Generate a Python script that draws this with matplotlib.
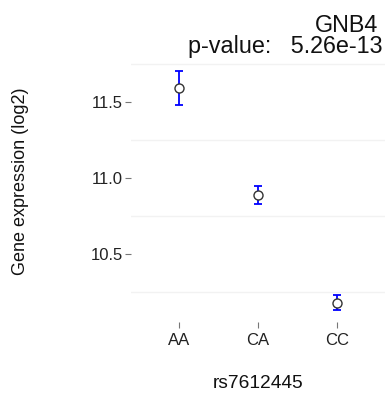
import matplotlib
matplotlib.use("Agg")
import matplotlib.pyplot as plt
import numpy as np

genotypes = ["AA", "CA", "CC"]
means = [11.592, 10.888, 10.182]
upper = [11.700, 10.950, 10.230]
lower = [11.476, 10.827, 10.134]

plt.rcParams['font.family'] = ['Liberation Sans', 'DejaVu Sans']

fig = plt.figure(figsize=(3.9, 3.94), dpi=100)
ax = fig.add_axes([131 / 390, 1 - 322 / 394, 254 / 390, 263 / 394])

x = np.arange(1, len(genotypes) + 1)
means = np.array(means)
yerr = [means - np.array(lower), np.array(upper) - means]
ax.errorbar(x, means, yerr=yerr, fmt='none', ecolor='#0000ff', elinewidth=1.3,
            capsize=3, capthick=1.3, zorder=2)
ax.plot(x, means, 'o', ms=6.5, mfc='white', mec='#333333', mew=1.0, zorder=3)

ax.set_xlim(0.4, 3.6)
ax.set_ylim(10.056, 11.78)
ax.set_xticks(x)
ax.set_xticklabels(genotypes)
ax.set_yticks([10.5, 11.0, 11.5])
ax.set_yticklabels(["10.5", "11.0", "11.5"])
for g in [10.25, 10.75, 11.25, 11.75]:
    ax.axhline(g, color='#f2f2f2', lw=1.0, zorder=0)
for s in ax.spines.values():
    s.set_visible(False)
ax.tick_params(axis='both', colors='#777777', length=4, width=0.8,
               labelsize=12, labelcolor='#222222', pad=2)
ax.tick_params(axis='x', pad=4)

ax.set_xlabel("rs7612445", fontsize=13.8, color='#111111')
ax.xaxis.set_label_coords(0.5, (322 - 383) / 263, transform=ax.transAxes)
ax.xaxis.label.set_va('center')
ax.set_ylabel("Gene expression (log2)", fontsize=13, color='#111111')
ax.yaxis.set_label_coords((21 - 131) / 254, (322 - 181) / 263, transform=ax.transAxes)
ax.yaxis.label.set_va('center')

fig.text(378 / 390, 1 - 32 / 394, "GNB4", ha='right', va='baseline',
         fontsize=16.8, color='#111111')
fig.text(382 / 390, 1 - 53 / 394, "p-value:   5.26e-13", ha='right', va='baseline',
         fontsize=16.8, color='#111111')

fig.savefig("out.png", dpi=100)
